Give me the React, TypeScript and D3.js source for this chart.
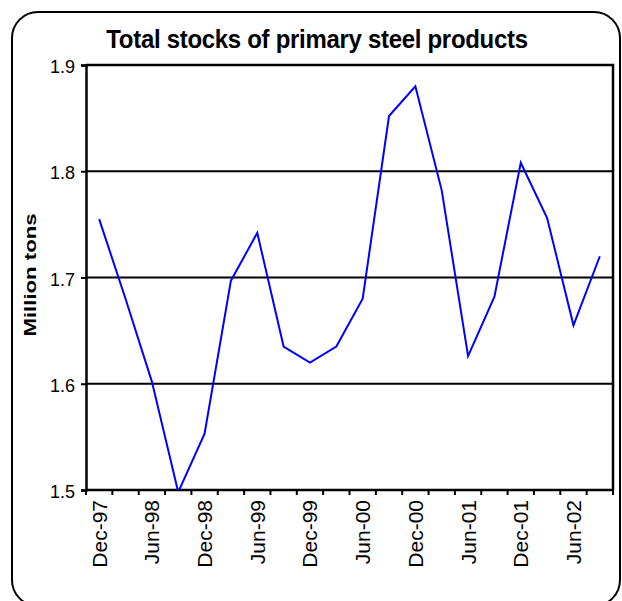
import React, { useEffect, useRef } from 'react';
import * as d3 from 'd3';

// quarterly stock levels, Dec-97 .. Sep-02
const quarters = [
  'Dec-97', 'Mar-98', 'Jun-98', 'Sep-98', 'Dec-98', 'Mar-99', 'Jun-99', 'Sep-99',
  'Dec-99', 'Mar-00', 'Jun-00', 'Sep-00', 'Dec-00', 'Mar-01', 'Jun-01', 'Sep-01',
  'Dec-01', 'Mar-02', 'Jun-02', 'Sep-02',
];
const stocks = [
  1.755, 1.68, 1.602, 1.498, 1.553, 1.697, 1.742, 1.635,
  1.62, 1.635, 1.68, 1.852, 1.88, 1.782, 1.626, 1.682,
  1.808, 1.756, 1.655, 1.72,
];
const yTicks = [1.5, 1.6, 1.7, 1.8, 1.9];
const shownLabels = quarters.filter((_, i) => i % 2 === 0);

const FONT = '"Liberation Sans", Arial, sans-serif';

const App: React.FC = () => {
  const svgRef = useRef<SVGSVGElement>(null);

  useEffect(() => {
    const svg = d3.select(svgRef.current!);
    svg.selectAll('*').remove();

    const width = 622;
    const height = 601;
    const margin = { top: 65, right: 9, bottom: 111, left: 86 };
    const x0 = margin.left;
    const x1 = width - margin.right;
    const y0 = height - margin.bottom;
    const y1 = margin.top;

    // outer rounded frame
    svg
      .append('rect')
      .attr('x', 12)
      .attr('y', 12)
      .attr('width', 608)
      .attr('height', 594)
      .attr('rx', 26)
      .attr('fill', 'white')
      .attr('stroke', 'black')
      .attr('stroke-width', 2);

    const xScale = d3.scaleBand<string>().domain(quarters).range([x0, x1]).padding(0);
    const yScale = d3.scaleLinear().domain([1.5, 1.9]).range([y0, y1]);

    // title (slightly tall glyphs like the original)
    svg
      .append('text')
      .attr('transform', 'translate(317,47.5) scale(1,1.08)')
      .attr('text-anchor', 'middle')
      .attr('font-family', FONT)
      .attr('font-weight', 'bold')
      .attr('font-size', 24)
      .attr('letter-spacing', -0.3)
      .text('Total stocks of primary steel products');

    // gridlines
    svg
      .append('g')
      .selectAll('line')
      .data(yTicks.slice(1, -1))
      .enter()
      .append('line')
      .attr('x1', x0)
      .attr('x2', x1)
      .attr('y1', (d) => yScale(d))
      .attr('y2', (d) => yScale(d))
      .attr('stroke', 'black')
      .attr('stroke-width', 2);

    // plot frame (top + right)
    svg
      .append('path')
      .attr('d', `M${x0},${y1}H${x1}V${y0}`)
      .attr('fill', 'none')
      .attr('stroke', 'black')
      .attr('stroke-width', 2.5);

    // y axis
    const yAxis = svg
      .append('g')
      .attr('transform', `translate(${x0},0)`)
      .call(
        d3
          .axisLeft(yScale)
          .tickValues(yTicks)
          .tickSize(5)
          .tickPadding(6)
          .tickFormat(d3.format('.1f'))
      );
    yAxis.select('.domain').attr('stroke', 'black').attr('stroke-width', 2.5);
    yAxis.selectAll('.tick line').attr('stroke', 'black').attr('stroke-width', 2);
    yAxis
      .selectAll('.tick text')
      .attr('font-family', FONT)
      .attr('font-size', 18)
      .attr('fill', 'black')
      .attr('dy', '0.42em');

    // x axis line + ticks at category boundaries
    svg
      .append('line')
      .attr('x1', x0)
      .attr('x2', x1)
      .attr('y1', y0)
      .attr('y2', y0)
      .attr('stroke', 'black')
      .attr('stroke-width', 2.5);

    const bounds = quarters.map((q) => xScale(q) as number).concat([x1]);
    svg
      .append('g')
      .selectAll('line')
      .data(bounds)
      .enter()
      .append('line')
      .attr('x1', (d) => d)
      .attr('x2', (d) => d)
      .attr('y1', y0)
      .attr('y2', y0 + 5)
      .attr('stroke', 'black')
      .attr('stroke-width', 2);

    const half = xScale.bandwidth() / 2;
    svg
      .append('g')
      .selectAll('text')
      .data(shownLabels)
      .enter()
      .append('text')
      .attr('transform', (d) => `translate(${(xScale(d) as number) + half + 7.5},${y0 + 10}) rotate(-90)`)
      .attr('text-anchor', 'end')
      .attr('font-family', FONT)
      .attr('font-size', 21)
      .text((d) => d);

    // y axis title
    svg
      .append('text')
      .attr('transform', 'translate(36,275) rotate(-90)')
      .attr('text-anchor', 'middle')
      .attr('font-family', FONT)
      .attr('font-weight', 'bold')
      .attr('font-size', 17)
      .attr('textLength', 123)
      .attr('lengthAdjust', 'spacingAndGlyphs')
      .text('Million tons');

    // data line, clipped to plot area
    svg
      .append('clipPath')
      .attr('id', 'plot-clip')
      .append('rect')
      .attr('x', x0)
      .attr('y', y1)
      .attr('width', x1 - x0)
      .attr('height', y0 - y1);

    const line = d3
      .line<number>()
      .x((_, i) => (xScale(quarters[i]) as number) + half)
      .y((d) => yScale(d));

    svg
      .append('path')
      .datum(stocks)
      .attr('clip-path', 'url(#plot-clip)')
      .attr('d', line)
      .attr('fill', 'none')
      .attr('stroke', '#0000ff')
      .attr('stroke-width', 2);
  }, []);

  return (
    <svg
      ref={svgRef}
      width={622}
      height={601}
      style={{ position: 'absolute', left: 0, top: 0, background: 'white' }}
    />
  );
};

export default App;
